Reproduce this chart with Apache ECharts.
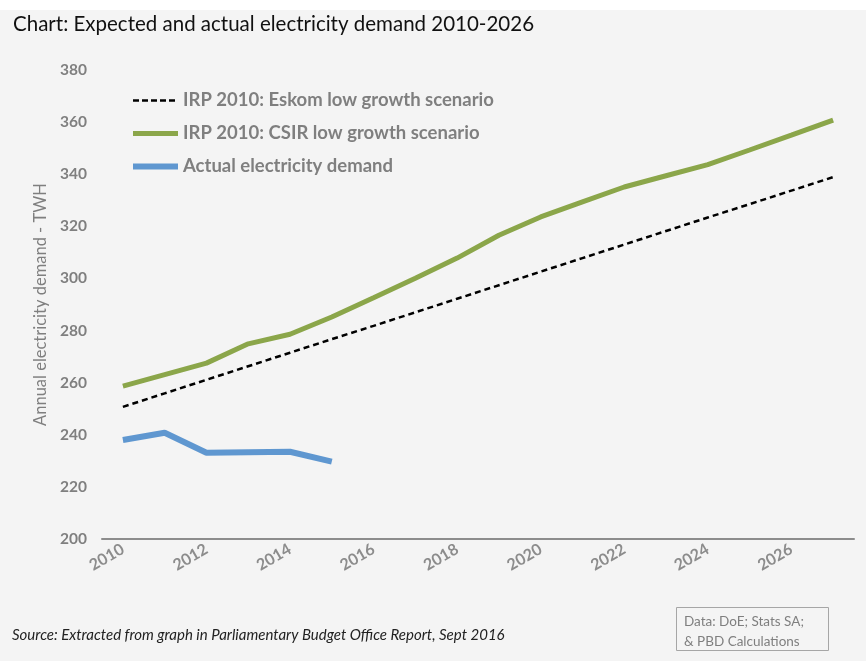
<!DOCTYPE html>
<html>
<head>
<meta charset="utf-8">
<script src="https://cdn.jsdelivr.net/npm/echarts@6/dist/echarts.min.js"></script>
<style>
html,body{margin:0;padding:0;background:#f4f4f4;}
#c{width:866px;height:661px;}
</style>
</head>
<body>
<div id="c"></div>
<script>
const years = ['2010','2011','2012','2013','2014','2015','2016','2017','2018','2019','2020','2021','2022','2023','2024','2025','2026','2027'];
const eskomLow = [250.7, 255.9, 261.1, 266.3, 271.5, 276.7, 281.8, 287.0, 292.2, 297.4, 302.6, 307.8, 313.0, 318.2, 323.4, 328.5, 333.7, 338.9];
const csirLow = [258.7, 263.1, 267.5, 274.9, 278.6, 285.2, 292.6, 300.1, 307.8, 316.6, 323.6, 329.4, 335.1, 339.4, 343.7, 349.3, 355.0, 360.8];
const actual = [238.0, 240.8, 233.1, 233.3, 233.5, 229.7];
const seriesNames = ['IRP 2010: Eskom low growth scenario', 'IRP 2010: CSIR low growth scenario', 'Actual electricity demand'];
const titleText = 'Chart: Expected and actual electricity demand 2010-2026';
const yAxisTitle = 'Annual electricity demand - TWH';
const sourceText = 'Source: Extracted from graph in Parliamentary Budget Office Report, Sept 2016';
const dataNote = ['Data: DoE; Stats SA;', '& PBD Calculations'];

const FONT = 'Lato';
const C_ESKOM = '#000000', C_CSIR = '#8ba64a', C_ACTUAL = '#5f97d0';
const chart = echarts.init(document.getElementById('c'));
chart.setOption({
  backgroundColor: '#f4f4f4',
  animation: false,
  title: {
    text: titleText, left: 8, top: 9,
    textStyle: {fontFamily: FONT, fontSize: 20.5, fontWeight: 'normal', color: '#111'}
  },
  graphic: [
    {type: 'rect', left: 0, top: 0, shape: {width: 866, height: 10}, style: {fill: '#ffffff'}, z: -1},
    {type: 'text', left: 12, top: 628, style: {text: sourceText, font: 'italic 15px Lato', fill: '#222'}},
    {type: 'rect', left: 674, top: 605, shape: {width: 152, height: 43}, style: {fill: 'none', stroke: '#a6a6a6', lineWidth: 1}},
    {type: 'text', left: 684, top: 612, style: {text: dataNote.join('\n'), font: '13.5px Lato', fill: '#7f7f7f', lineHeight: 20}}
  ],
  legend: {
    orient: 'vertical', left: 125, top: 86, itemGap: 14,
    itemWidth: 45, itemHeight: 8,
    itemStyle: {opacity: 0},
    textStyle: {fontFamily: FONT, fontSize: 18.5, fontWeight: 'bold', color: '#7f7f7f'},
    data: [
      {name: seriesNames[0], lineStyle: {color: C_ESKOM, width: 2.5, type: [6, 3]}},
      {name: seriesNames[1], lineStyle: {color: C_CSIR, width: 5}},
      {name: seriesNames[2], lineStyle: {color: C_ACTUAL, width: 6}}
    ]
  },
  grid: {left: 102, right: 12, top: 70, bottom: 122, containLabel: false},
  xAxis: {
    type: 'category', data: years, boundaryGap: true,
    axisLine: {lineStyle: {color: '#8c8c8c', width: 2}},
    axisTick: {show: false},
    axisLabel: {interval: 1, rotate: 30, margin: 9, fontFamily: FONT, fontSize: 16, fontWeight: 'bold', color: '#8c8c8c'}
  },
  yAxis: {
    type: 'value', min: 200, max: 380, interval: 20,
    name: yAxisTitle, nameLocation: 'middle', nameGap: 52, nameRotate: 90,
    nameTextStyle: {fontFamily: FONT, fontSize: 16.5, color: '#7f7f7f'},
    axisLine: {show: false}, axisTick: {show: false}, splitLine: {show: false},
    axisLabel: {margin: 15, fontFamily: FONT, fontSize: 15.5, fontWeight: 'bold', color: '#7f7f7f'}
  },
  series: [
    {name: seriesNames[0], type: 'line', data: eskomLow, symbol: 'none', color: C_ESKOM,
     lineStyle: {color: C_ESKOM, width: 2.5, type: [6, 4]}},
    {name: seriesNames[1], type: 'line', data: csirLow, symbol: 'none', color: C_CSIR,
     lineStyle: {color: C_CSIR, width: 5}},
    {name: seriesNames[2], type: 'line', data: actual, symbol: 'none', color: C_ACTUAL,
     lineStyle: {color: C_ACTUAL, width: 6}}
  ]
});
</script>
</body>
</html>
